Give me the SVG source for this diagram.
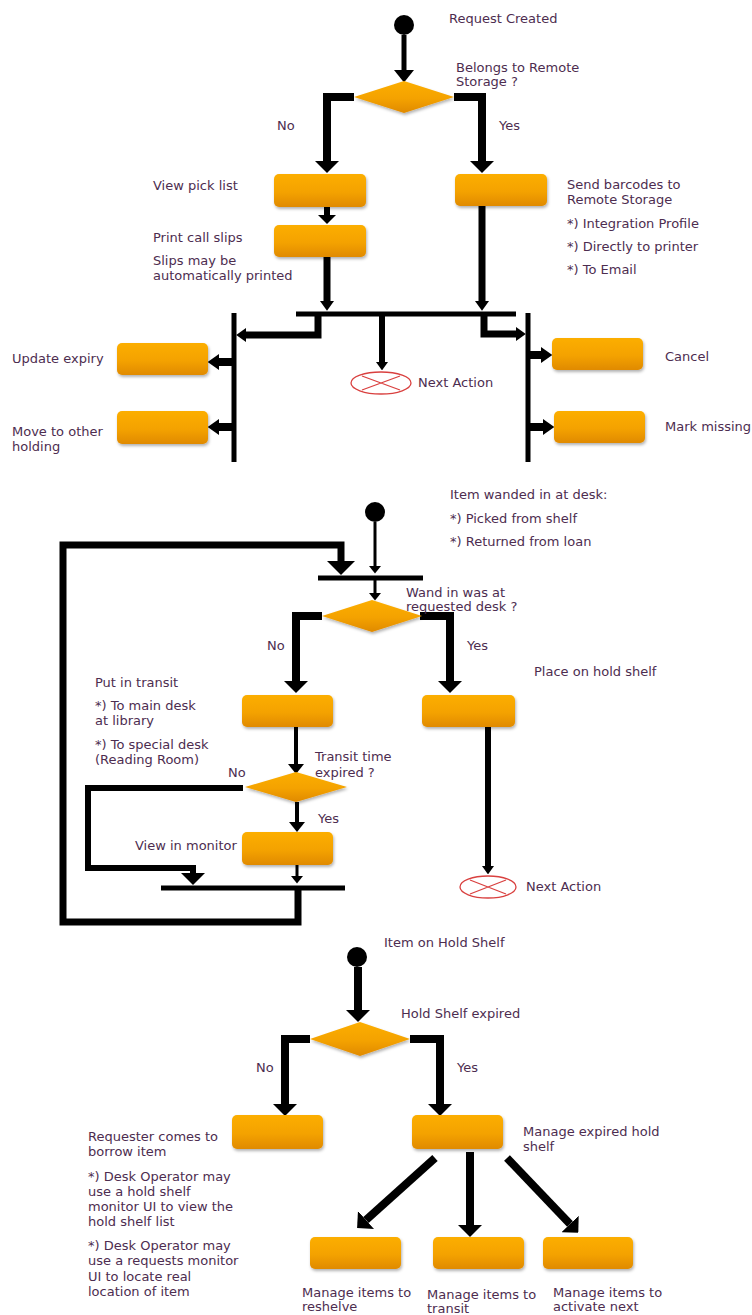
<svg xmlns="http://www.w3.org/2000/svg" width="752" height="1315" viewBox="0 0 752 1315">
<style>
.t{font-family:"DejaVu Sans","Liberation Sans",sans-serif;font-size:13px;fill:#4d2d50}
.box{fill:url(#og);filter:url(#sh)}
.c{fill:none;stroke:#000;stroke-linejoin:miter}
.bar{fill:none;stroke:#000;stroke-width:5}
.end{fill:#fff;stroke:#d9403f;stroke-width:1.3}
</style>
<defs>
<linearGradient id="og" x1="0" y1="0" x2="0" y2="1">
<stop offset="0" stop-color="#fcae00"/>
<stop offset="0.55" stop-color="#f4a200"/>
<stop offset="1" stop-color="#e08a00"/>
</linearGradient>
<filter id="sh" x="-10%" y="-20%" width="130%" height="160%">
<feDropShadow dx="1" dy="2" stdDeviation="1.5" flood-color="#000" flood-opacity="0.3"/>
</filter>
<marker id="a" viewBox="0 0 15 30" refX="0" refY="15" markerWidth="1.5" markerHeight="3" markerUnits="strokeWidth" orient="auto">
<path d="M0,0 L15,15 L0,30 z" fill="#000"/>
</marker>
<marker id="an" viewBox="0 0 14 20" refX="0" refY="10" markerWidth="1.4" markerHeight="2" markerUnits="strokeWidth" orient="auto">
<path d="M0,0 L14,10 L0,20 z" fill="#000"/>
</marker>
<marker id="as" viewBox="0 0 25 40" refX="0" refY="20" markerWidth="2.5" markerHeight="4" markerUnits="strokeWidth" orient="auto">
<path d="M0,0 L25,20 L0,40 z" fill="#000"/>
</marker>
<marker id="ab" viewBox="0 0 20 40" refX="0" refY="20" markerWidth="2" markerHeight="4" markerUnits="strokeWidth" orient="auto">
<path d="M0,0 L20,20 L0,40 z" fill="#000"/>
</marker>
</defs>
<rect width="752" height="1315" fill="#fff"/>

<g id="connectors">
<!-- section 1 -->
<path class="c" d="M404,35 V70" stroke-width="5" marker-end="url(#as)"/>
<path class="c" d="M354,97 H327 V161" stroke-width="8" marker-end="url(#a)"/>
<path class="c" d="M454,97 H482 V161" stroke-width="8" marker-end="url(#a)"/>
<path class="c" d="M327,207 V215" stroke-width="6" marker-end="url(#a)"/>
<path class="c" d="M327,257 V301" stroke-width="7" marker-end="url(#an)"/>
<path class="c" d="M482,206 V301" stroke-width="7" marker-end="url(#an)"/>
<path class="bar" d="M296,314 H516"/>
<path class="c" d="M318,314 V335 H246" stroke-width="7" marker-end="url(#an)"/>
<path class="c" d="M484,314 V334 H516" stroke-width="7" marker-end="url(#an)"/>
<path class="c" d="M382,316 V362" stroke-width="6" marker-end="url(#an)"/>
<path class="bar" d="M234,313 V462"/>
<path class="bar" d="M528,313 V462"/>
<path class="c" d="M232,362 H219" stroke-width="8" marker-end="url(#an)"/>
<path class="c" d="M232,427 H219" stroke-width="8" marker-end="url(#an)"/>
<path class="c" d="M530,355 H541" stroke-width="8" marker-end="url(#an)"/>
<path class="c" d="M530,427 H543" stroke-width="8" marker-end="url(#an)"/>
<!-- section 2 -->
<path class="c" d="M375,522 V566" stroke-width="3" marker-end="url(#as)"/>
<path class="bar" d="M318,578 H423"/>
<path class="c" d="M375,580 V593" stroke-width="3" marker-end="url(#as)"/>
<path class="c" d="M298,888 V922 H63 V545 H341 V561" stroke-width="7" marker-end="url(#ab)"/>
<path class="c" d="M322,616 H296 V681" stroke-width="8" marker-end="url(#a)"/>
<path class="c" d="M420,616 H450 V681" stroke-width="8" marker-end="url(#a)"/>
<path class="c" d="M296,727 V764" stroke-width="4" marker-end="url(#as)"/>
<path class="c" d="M243,788 H88 V868 H193 V873" stroke-width="6" marker-end="url(#ab)"/>
<path class="c" d="M297,802 V822" stroke-width="4" marker-end="url(#as)"/>
<path class="c" d="M297,865 V876" stroke-width="3" marker-end="url(#as)"/>
<path class="bar" d="M161,888 H345"/>
<path class="c" d="M488,727 V866" stroke-width="6" marker-end="url(#an)"/>
<!-- section 3 -->
<path class="c" d="M358,967 V1010" stroke-width="8" marker-end="url(#a)"/>
<path class="c" d="M310,1039 H285 V1104" stroke-width="8" marker-end="url(#a)"/>
<path class="c" d="M410,1039 H440 V1104" stroke-width="8" marker-end="url(#a)"/>
<path class="c" d="M435,1158 L366,1220" stroke-width="8" marker-end="url(#a)"/>
<path class="c" d="M470,1152 V1225" stroke-width="8" marker-end="url(#a)"/>
<path class="c" d="M507,1158 L570,1224" stroke-width="8" marker-end="url(#a)"/>
</g>

<!-- section 1 nodes -->
<g id="start1"><circle cx="404" cy="25" r="10" fill="#000"/><text class="t" x="449" y="23">Request Created</text></g>
<g id="dec1"><polygon class="box" points="404,81 454,97 404,113 354,97"/><text class="t" x="456" y="72">Belongs to Remote</text><text class="t" x="456" y="86">Storage ?</text><text class="t" x="277" y="130">No</text><text class="t" x="499" y="130">Yes</text></g>
<g id="pick"><rect class="box" x="274" y="174" width="92" height="33" rx="5"/><text class="t" x="153" y="190">View pick list</text></g>
<g id="slips"><rect class="box" x="274" y="225" width="92" height="32" rx="5"/><text class="t" x="153" y="242">Print call slips</text><text class="t" x="153" y="265">Slips may be</text><text class="t" x="153" y="280">automatically printed</text></g>
<g id="send"><rect class="box" x="455" y="174" width="92" height="32" rx="5"/><text class="t" x="567" y="189">Send barcodes to</text><text class="t" x="567" y="204">Remote Storage</text><text class="t" x="567" y="228">*) Integration Profile</text><text class="t" x="567" y="251">*) Directly to printer</text><text class="t" x="567" y="274">*) To Email</text></g>
<g id="end1"><ellipse class="end" cx="381" cy="383" rx="30" ry="11"/><path d="M362,376 L400,390 M362,390 L400,376" stroke="#d9403f" stroke-width="1.3"/><text class="t" x="418" y="387">Next Action</text></g>
<g id="update"><rect class="box" x="117" y="343" width="91" height="32" rx="5"/><text class="t" x="12" y="363">Update expiry</text></g>
<g id="move"><rect class="box" x="117" y="411" width="91" height="33" rx="5"/><text class="t" x="12" y="436">Move to other</text><text class="t" x="12" y="451">holding</text></g>
<g id="cancel"><rect class="box" x="552" y="338" width="91" height="32" rx="5"/><text class="t" x="665" y="361">Cancel</text></g>
<g id="missing"><rect class="box" x="554" y="411" width="91" height="32" rx="5"/><text class="t" x="665" y="431">Mark missing</text></g>

<!-- section 2 nodes -->
<g id="start2"><circle cx="375" cy="512" r="10" fill="#000"/><text class="t" x="450" y="499">Item wanded in at desk:</text><text class="t" x="450" y="523">*) Picked from shelf</text><text class="t" x="450" y="546">*) Returned from loan</text></g>
<g id="dec2"><polygon class="box" points="372,600 422,616 372,632 322,616"/><text class="t" x="406" y="597">Wand in was at</text><text class="t" x="406" y="611">requested desk ?</text><text class="t" x="267" y="650">No</text><text class="t" x="467" y="650">Yes</text></g>
<g id="transit"><rect class="box" x="242" y="695" width="91" height="32" rx="5"/><text class="t" x="95" y="687">Put in transit</text><text class="t" x="95" y="710">*) To main desk</text><text class="t" x="95" y="725">at library</text><text class="t" x="95" y="749">*) To special desk</text><text class="t" x="95" y="764">(Reading Room)</text></g>
<g id="hold"><rect class="box" x="422" y="695" width="93" height="32" rx="5"/><text class="t" x="534" y="676">Place on hold shelf</text></g>
<g id="dec3"><polygon class="box" points="296,772 347,787 296,802 245,787"/><text class="t" x="315" y="761">Transit time</text><text class="t" x="315" y="777">expired ?</text><text class="t" x="228" y="777">No</text><text class="t" x="318" y="823">Yes</text></g>
<g id="monitor"><rect class="box" x="242" y="832" width="91" height="33" rx="5"/><text class="t" x="135" y="850">View in monitor</text></g>
<g id="end2"><ellipse class="end" cx="488" cy="887" rx="28" ry="11"/><path d="M470,880 L506,894 M470,894 L506,880" stroke="#d9403f" stroke-width="1.3"/><text class="t" x="526" y="891">Next Action</text></g>

<!-- section 3 nodes -->
<g id="start3"><circle cx="357" cy="957" r="10" fill="#000"/><text class="t" x="384" y="947">Item on Hold Shelf</text></g>
<g id="dec4"><polygon class="box" points="360,1022 410,1039 360,1056 310,1039"/><text class="t" x="401" y="1018">Hold Shelf expired</text><text class="t" x="256" y="1072">No</text><text class="t" x="457" y="1072">Yes</text></g>
<g id="borrow"><rect class="box" x="232" y="1115" width="91" height="34" rx="5"/><text class="t" x="88" y="1141">Requester comes to</text><text class="t" x="88" y="1156">borrow item</text><text class="t" x="88" y="1181">*) Desk Operator may</text><text class="t" x="88" y="1196">use a hold shelf</text><text class="t" x="88" y="1211">monitor UI to view the</text><text class="t" x="88" y="1226">hold shelf list</text><text class="t" x="88" y="1250">*) Desk Operator may</text><text class="t" x="88" y="1265">use a requests monitor</text><text class="t" x="88" y="1281">UI to locate real</text><text class="t" x="88" y="1296">location of item</text></g>
<g id="expired"><rect class="box" x="412" y="1115" width="91" height="34" rx="5"/><text class="t" x="523" y="1136">Manage expired hold</text><text class="t" x="523" y="1151">shelf</text></g>
<g id="reshelve"><rect class="box" x="310" y="1237" width="91" height="32" rx="5"/><text class="t" x="302" y="1297">Manage items to</text><text class="t" x="302" y="1311">reshelve</text></g>
<g id="totransit"><rect class="box" x="433" y="1237" width="91" height="32" rx="5"/><text class="t" x="427" y="1299">Manage items to</text><text class="t" x="427" y="1313">transit</text></g>
<g id="activate"><rect class="box" x="543" y="1237" width="90" height="32" rx="5"/><text class="t" x="553" y="1297">Manage items to</text><text class="t" x="553" y="1311">activate next</text></g>
</svg>
